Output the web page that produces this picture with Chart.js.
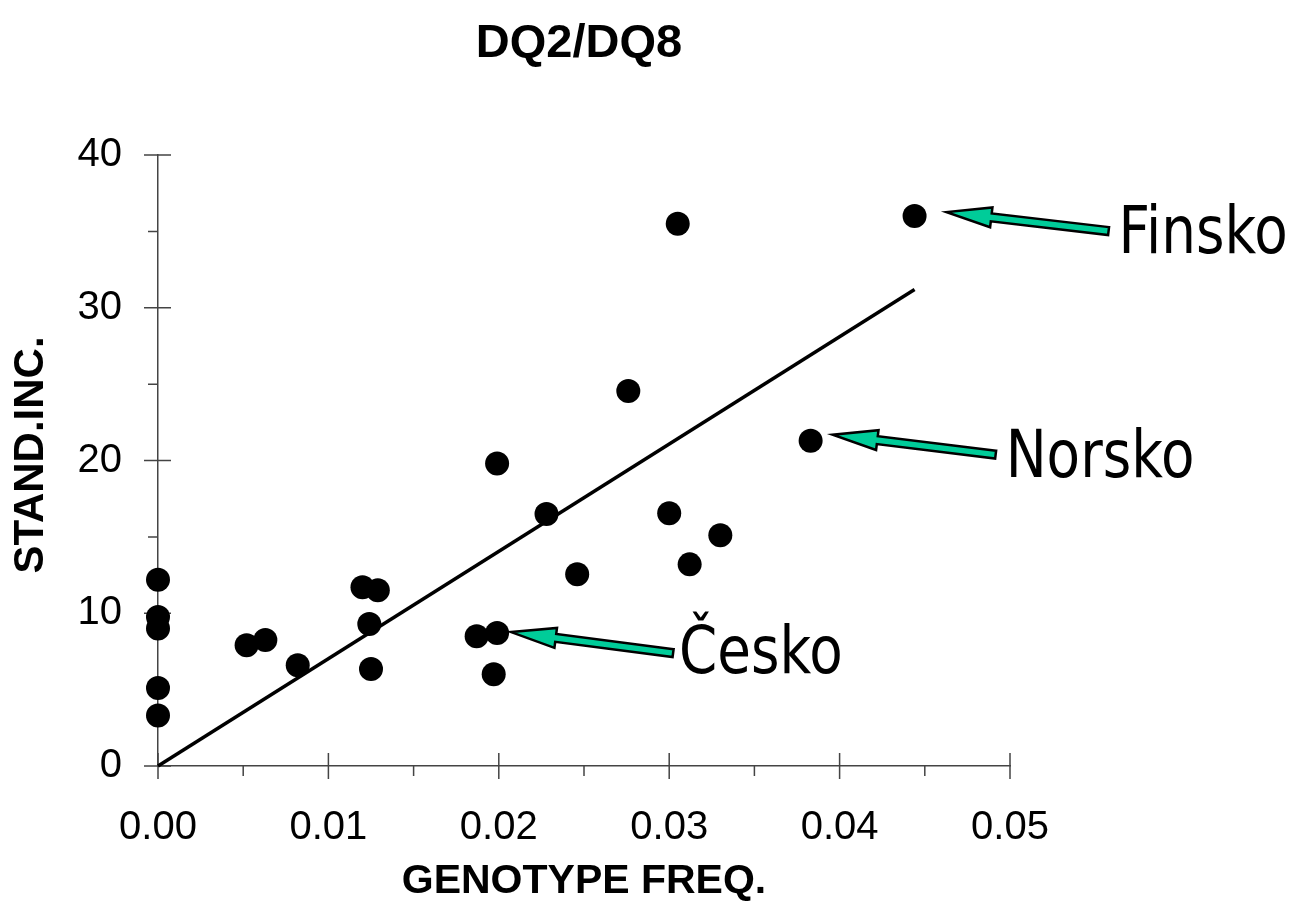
<!DOCTYPE html>
<html><head><meta charset="utf-8">
<script src="https://cdn.jsdelivr.net/npm/chart.js@4/dist/chart.umd.min.js"></script>
<style>html,body{margin:0;padding:0;background:#fff;overflow:hidden}</style>
</head><body>
<canvas id="c" width="1299" height="916"></canvas>
<script>
// ---- data ----
const genotypeFreq = [0, 0, 0, 0, 0, 0.0052, 0.0063, 0.0082, 0.0120, 0.0129, 0.0124, 0.0125, 0.0187, 0.0199, 0.0197, 0.0199, 0.0228, 0.0246, 0.0276, 0.0305, 0.0300, 0.0312, 0.0330, 0.0383, 0.0444];
const standInc     = [12.2, 9.75, 9.0, 5.1, 3.3, 7.9, 8.25, 6.6, 11.7, 11.5, 9.3, 6.35, 8.5, 8.7, 6.0, 19.8, 16.5, 12.55, 24.55, 35.5, 16.55, 13.2, 15.1, 21.3, 36.0];
const trendX = [0, 0.0444];
const trendY = [0, 31.2];
const xTickValues = [0, 0.01, 0.02, 0.03, 0.04, 0.05];
const yTickValues = [0, 10, 20, 30, 40];
const calloutLabels = ['Finsko', 'Norsko', 'Česko'];
const calloutPointIndex = [24, 23, 13];
const chartTitle = 'DQ2/DQ8';
const xTitle = 'GENOTYPE FREQ.';
const yTitle = 'STAND.INC.';

// ---- layout / style config ----
const calloutLayout = {
  'Finsko': {tip:[32,-4], tail:[194,15], text:[204,37]},
  'Norsko': {tip:[22,-6], tail:[185,14], text:[195,36]},
  'Česko':  {tip:[14,-1], tail:[176,20], text:[182,40]}
};
const AXIS_COLOR = '#444';

function drawArrow(ctx, S, T) {
  const dx = T[0]-S[0], dy = T[1]-S[1];
  const len = Math.hypot(dx, dy);
  const ux = dx/len, uy = dy/len, nx = -uy, ny = ux;
  const w = 4, h = 10, L = 45;
  const bx = T[0]-ux*L, by = T[1]-uy*L;
  ctx.beginPath();
  ctx.moveTo(S[0]+nx*w, S[1]+ny*w);
  ctx.lineTo(bx+nx*w, by+ny*w);
  ctx.lineTo(bx+nx*h, by+ny*h);
  ctx.lineTo(T[0], T[1]);
  ctx.lineTo(bx-nx*h, by-ny*h);
  ctx.lineTo(bx-nx*w, by-ny*w);
  ctx.lineTo(S[0]-nx*w, S[1]-ny*w);
  ctx.closePath();
  ctx.fillStyle = '#00CC99';
  ctx.fill();
  ctx.lineWidth = 2.5;
  ctx.strokeStyle = '#000';
  ctx.lineJoin = 'miter';
  ctx.stroke();
}

const axisTicksPlugin = {
  id: 'axisTicks',
  beforeDatasetsDraw(chart) {
    const ctx = chart.ctx, xs = chart.scales.x, ys = chart.scales.y;
    const x0 = xs.getPixelForValue(0), y0 = ys.getPixelForValue(0);
    ctx.save();
    ctx.strokeStyle = AXIS_COLOR; ctx.lineWidth = 1.5;
    ctx.beginPath();
    for (let i = 0; i <= 8; i++) {
      const v = i*5, p = ys.getPixelForValue(v);
      if (i % 2 === 0) { ctx.moveTo(x0-14, p); ctx.lineTo(x0+13, p); }
      else { ctx.moveTo(x0-10, p); ctx.lineTo(x0, p); }
    }
    for (let i = 0; i <= 10; i++) {
      const v = i*0.005, p = xs.getPixelForValue(v);
      if (i % 2 === 0) { ctx.moveTo(p, y0-13); ctx.lineTo(p, y0+13); }
      else { ctx.moveTo(p, y0); ctx.lineTo(p, y0+10); }
    }
    ctx.stroke();
    ctx.restore();
  },
  afterDraw(chart) {
    const ctx = chart.ctx, xs = chart.scales.x, ys = chart.scales.y, ca = chart.chartArea;
    ctx.save();
    ctx.fillStyle = '#000';
    ctx.textAlign = 'center'; ctx.textBaseline = 'middle';
    ctx.font = 'bold 47px "Liberation Sans", Arial, sans-serif';
    ctx.fillText(chartTitle, 579, 44);
    ctx.font = 'bold 41px "Liberation Sans", Arial, sans-serif';
    ctx.fillText(xTitle, (ca.left+ca.right)/2, 882);
    ctx.save();
    ctx.translate(31, 455);
    ctx.rotate(-Math.PI/2);
    ctx.font = 'bold 42px "Liberation Sans", Arial, sans-serif';
    ctx.fillText(yTitle, 0, 0);
    ctx.restore();
    // callouts
    calloutLabels.forEach((lab, i) => {
      const idx = calloutPointIndex[i];
      const px = xs.getPixelForValue(genotypeFreq[idx]);
      const py = ys.getPixelForValue(standInc[idx]);
      const L = calloutLayout[lab];
      drawArrow(ctx, [px+L.tail[0], py+L.tail[1]], [px+L.tip[0], py+L.tip[1]]);
      ctx.save();
      ctx.translate(px+L.text[0], py+L.text[1]);
      ctx.scale(0.83, 1);
      ctx.font = '66px "DejaVu Sans", Verdana, sans-serif';
      ctx.textAlign = 'left'; ctx.textBaseline = 'alphabetic';
      ctx.fillStyle = '#000';
      ctx.fillText(lab, 0, 0);
      ctx.restore();
    });
    ctx.restore();
  }
};

const points = genotypeFreq.map((x, i) => ({x, y: standInc[i]}));
const trend = trendX.map((x, i) => ({x, y: trendY[i]}));

new Chart(document.getElementById('c'), {
  type: 'scatter',
  data: {
    datasets: [
      {label: 'countries', data: points, backgroundColor: '#000', borderWidth: 0, pointRadius: 12, clip: false, order: 0},
      {label: 'trend', data: trend, showLine: true, borderColor: '#000', borderWidth: 3.5, pointRadius: 0, fill: false, clip: false, order: 1}
    ]
  },
  options: {
    responsive: false,
    devicePixelRatio: 1,
    animation: false,
    layout: {padding: {top: 155, right: 289, left: 0, bottom: 0}},
    plugins: {legend: {display: false}, tooltip: {enabled: false}, title: {display: false}},
    scales: {
      x: {
        type: 'linear', min: 0, max: 0.05,
        afterBuildTicks: s => { s.ticks = xTickValues.map(v => ({value: v})); },
        afterFit: s => { s.height = 150; },
        ticks: {callback: v => Number(v).toFixed(2), color: '#000', padding: 38, maxRotation: 0,
                font: {family: '"Liberation Sans", Arial, sans-serif', size: 40}},
        grid: {display: true, drawOnChartArea: false, drawTicks: false},
        border: {display: true, color: AXIS_COLOR, width: 1.5}
      },
      y: {
        type: 'linear', min: 0, max: 40,
        afterBuildTicks: s => { s.ticks = yTickValues.map(v => ({value: v})); },
        afterFit: s => { s.width = 158; },
        ticks: {color: '#000', padding: 36,
                font: {family: '"Liberation Sans", Arial, sans-serif', size: 40}},
        grid: {display: true, drawOnChartArea: false, drawTicks: false},
        border: {display: true, color: AXIS_COLOR, width: 1.5}
      }
    }
  },
  plugins: [axisTicksPlugin]
});
</script>
</body></html>
